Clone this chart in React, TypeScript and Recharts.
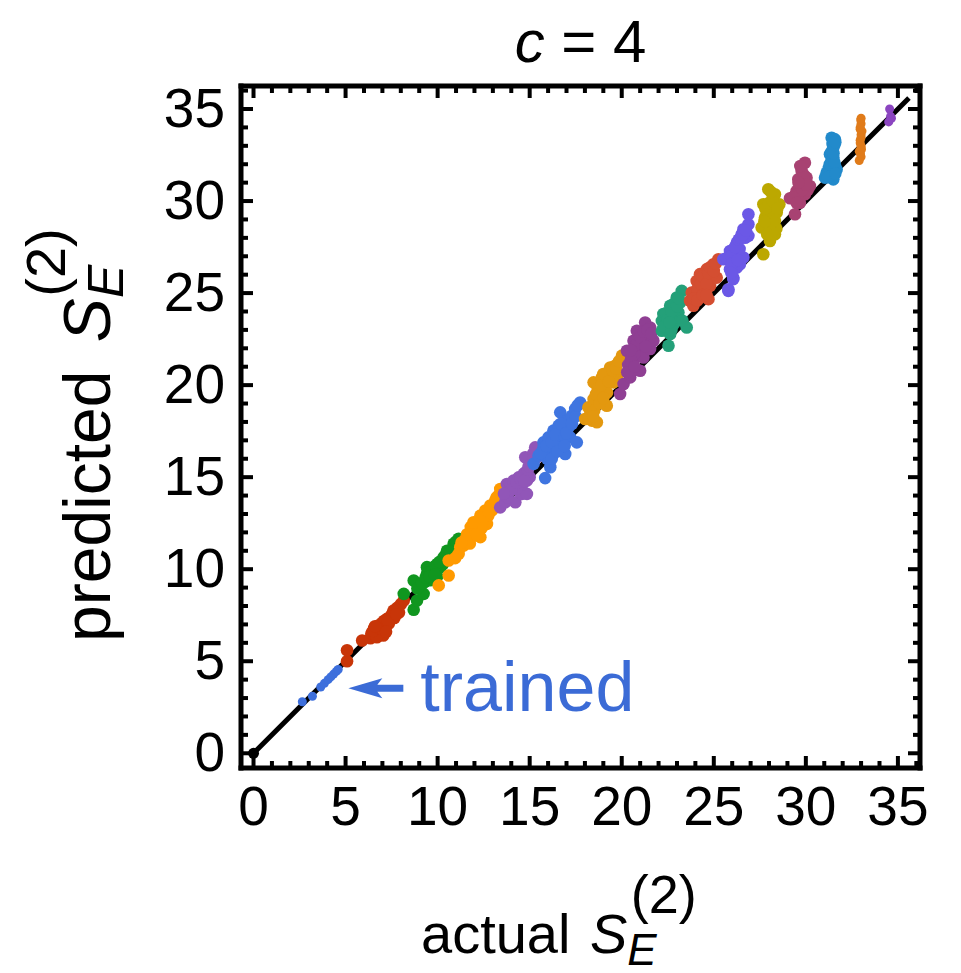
import { ScatterChart, Scatter, XAxis, YAxis, ReferenceDot } from "recharts"

type Pt = [number, number]

// axis setup
const X_DOMAIN: [number, number] = [-0.68, 36.2]
const Y_DOMAIN: [number, number] = [-0.8, 36.25]
const TICKS = [0, 1, 2, 3, 4, 5, 6, 7, 8, 9, 10, 11, 12, 13, 14, 15, 16, 17, 18, 19, 20, 21, 22, 23, 24, 25, 26, 27, 28, 29, 30, 31, 32, 33, 34, 35, 36]
const MAJOR = [0, 5, 10, 15, 20, 25, 30, 35]

// actual vs predicted, one array per group
const ORIGIN: Pt[] = [[0, 0]]
const DIAGONAL: Pt[] = [[0, 0], [35.6, 35.6]]
const TRAINED: Pt[] = [[2.65, 2.8], [3.2, 3.1], [3.65, 3.6], [3.85, 3.8], [4.05, 4.0], [4.2, 4.15], [4.35, 4.3], [4.5, 4.45], [4.6, 4.55]]
const RED_A: Pt[] = [[5.08, 5.0], [5.08, 5.6], [5.9, 6.13], [6.35, 6.25], [6.45, 6.55], [6.6, 6.35], [6.55, 6.8], [6.75, 6.55], [6.8, 6.95], [6.95, 6.7], [7.0, 7.1], [7.05, 6.4], [7.15, 6.9], [7.25, 7.3], [7.35, 7.05], [7.45, 7.45], [7.55, 7.6], [7.65, 7.35], [7.8, 7.9], [7.9, 7.65], [8.0, 8.1], [8.16, 8.3], [6.4, 6.5], [6.7, 6.3], [6.5, 6.65], [6.85, 6.8], [7.1, 7.2], [7.3, 7.15], [7.6, 7.75], [7.75, 7.55], [6.6, 6.9], [7.2, 6.6]]
const GREEN_A: Pt[] = [[8.16, 8.66], [8.7, 7.8], [8.88, 8.3], [8.7, 9.39], [9.06, 9.02], [9.24, 8.66], [9.42, 9.75], [9.3, 9.3], [9.6, 9.4], [9.78, 10.11], [9.97, 9.6], [10.15, 10.11], [10.0, 10.3], [10.33, 10.65], [10.3, 10.3], [10.51, 11.0], [10.6, 10.7], [10.87, 11.38], [10.8, 11.1], [11.14, 11.65], [9.42, 10.11], [9.5, 9.8], [8.9, 8.95], [11.0, 11.5], [9.15, 9.25], [9.35, 9.55], [9.7, 9.9], [9.9, 10.2], [10.1, 10.4], [10.45, 10.8], [10.7, 10.95], [9.55, 9.6], [9.85, 9.7]]
const ORANGE_A: Pt[] = [[10.06, 9.12], [10.6, 9.66], [10.6, 10.47], [10.95, 10.6], [11.14, 10.83], [11.23, 11.19], [11.41, 11.29], [11.5, 11.6], [11.68, 11.74], [11.87, 12.1], [11.9, 11.8], [12.05, 12.46], [12.14, 12.1], [12.32, 11.74], [12.32, 12.91], [12.45, 12.6], [12.59, 13.19], [12.68, 12.46], [12.75, 12.9], [12.86, 13.46], [12.95, 13.2], [13.13, 13.73], [13.31, 14.0], [13.4, 14.36], [11.75, 11.4], [12.2, 12.3], [11.3, 11.45], [11.6, 11.9], [11.8, 12.3], [12.0, 12.2], [12.4, 12.25], [12.5, 12.85], [12.8, 13.1], [13.0, 13.5], [13.2, 13.9], [12.1, 11.9], [11.95, 12.55]]
const PURPLE_A: Pt[] = [[13.4, 13.36], [13.67, 13.64], [13.76, 14.63], [13.94, 14.63], [14.12, 14.81], [14.22, 13.64], [14.4, 14.99], [14.49, 14.18], [14.58, 14.09], [14.67, 15.18], [14.76, 15.26], [14.76, 16.08], [14.85, 14.09], [14.85, 14.81], [15.03, 15.63], [15.0, 15.0], [15.3, 16.62], [15.39, 16.08], [15.2, 16.3], [14.6, 14.6], [14.3, 14.4], [13.8, 13.9], [14.0, 14.3], [14.3, 14.7], [14.5, 14.9], [14.7, 14.8], [14.9, 15.4], [15.1, 15.8], [15.2, 16.0], [14.95, 15.6], [13.6, 14.1]]
const BLUE_A: Pt[] = [[15.21, 15.72], [15.48, 16.17], [15.75, 16.89], [15.75, 16.62], [15.84, 14.95], [16.0, 16.4], [16.02, 17.16], [16.12, 15.54], [16.29, 17.53], [16.29, 16.26], [16.39, 16.62], [16.57, 17.8], [16.66, 18.52], [16.75, 16.98], [16.93, 16.26], [17.02, 18.07], [17.2, 17.16], [17.29, 18.34], [17.47, 18.7], [17.56, 16.89], [17.74, 19.06], [16.5, 17.2], [16.8, 17.5], [17.1, 17.7], [15.95, 16.0], [16.6, 16.6], [15.6, 16.3], [15.9, 16.7], [16.2, 16.9], [16.4, 17.3], [16.7, 17.9], [16.9, 17.2], [17.0, 17.4], [17.3, 17.9], [17.5, 18.3], [17.6, 18.9], [16.2, 16.0], [16.5, 16.4], [16.9, 16.7]]
const GOLD_A: Pt[] = [[18.01, 18.16], [18.19, 18.79], [18.38, 18.07], [18.47, 19.24], [18.47, 20.15], [18.65, 17.98], [18.83, 19.52], [18.92, 20.42], [19.01, 19.97], [19.19, 18.88], [19.19, 20.42], [19.37, 20.78], [19.37, 20.96], [19.55, 20.15], [19.64, 21.05], [19.82, 20.6], [20.01, 21.6], [18.7, 19.8], [19.2, 19.6], [18.3, 18.5], [19.5, 20.5], [18.2, 18.2], [18.5, 18.6], [18.6, 19.5], [18.8, 19.0], [18.9, 20.0], [19.0, 20.6], [19.3, 20.2], [19.5, 20.8], [19.7, 20.9], [18.45, 18.3], [19.0, 19.3], [19.85, 21.3]]
const PURPLE_B: Pt[] = [[19.91, 19.52], [20.1, 20.06], [20.28, 21.87], [20.46, 20.42], [20.46, 20.6], [20.64, 21.32], [20.64, 22.41], [20.82, 22.95], [20.91, 21.87], [20.99, 22.05], [21.0, 20.78], [21.18, 21.5], [21.27, 23.4], [21.45, 22.59], [21.54, 23.13], [21.54, 21.96], [21.72, 22.41], [20.7, 21.7], [21.1, 22.4], [20.35, 21.1], [20.3, 20.7], [20.5, 21.4], [20.7, 21.0], [20.8, 22.2], [21.0, 22.6], [21.2, 22.9], [21.3, 22.1], [21.4, 23.0], [20.5, 21.9], [21.6, 22.8]]
const TEAL_A: Pt[] = [[22.18, 23.49], [22.18, 22.95], [22.26, 23.86], [22.54, 22.14], [22.63, 24.31], [22.63, 22.77], [22.81, 23.31], [22.99, 24.76], [23.08, 23.95], [23.17, 24.49], [23.26, 25.12], [23.53, 23.13], [22.45, 23.3], [22.9, 23.7], [22.4, 23.9], [22.3, 23.2], [22.5, 23.6], [22.7, 24.0], [22.8, 24.4], [23.0, 24.3], [23.1, 24.7], [22.7, 23.0], [23.3, 23.5], [22.6, 23.4]]
const RED_B: Pt[] = [[23.71, 24.58], [23.8, 25.03], [23.89, 24.31], [24.07, 25.66], [24.25, 26.03], [24.25, 24.76], [24.43, 25.21], [24.62, 26.3], [24.71, 24.67], [24.8, 25.39], [24.98, 26.57], [25.16, 25.84], [25.25, 26.84], [24.5, 25.7], [24.1, 25.2], [24.9, 26.0], [23.9, 24.7], [24.1, 24.6], [24.3, 25.5], [24.4, 25.9], [24.6, 25.5], [24.7, 26.1], [24.8, 26.4], [25.0, 26.2], [24.4, 24.9], [24.6, 24.9], [25.1, 26.6]]
const VIOLET_A: Pt[] = [[25.52, 26.84], [25.79, 25.12], [25.79, 25.21], [25.88, 27.29], [25.88, 26.3], [26.06, 25.84], [26.06, 25.76], [26.25, 27.74], [26.25, 26.39], [26.42, 26.57], [26.52, 28.2], [26.61, 26.93], [26.61, 28.47], [26.7, 28.01], [26.88, 28.11], [26.88, 28.74], [26.88, 29.28], [26.1, 27.1], [26.4, 27.4], [25.7, 26.9], [25.95, 27.0], [26.15, 27.5], [26.35, 27.9], [26.45, 28.0], [26.6, 28.2], [26.75, 28.4], [26.0, 26.6], [26.3, 26.8], [25.95, 26.1]]
const OLIVE_A: Pt[] = [[27.96, 30.64], [28.32, 30.37], [27.69, 29.83], [28.14, 29.64], [28.56, 29.83], [27.78, 29.1], [28.32, 28.92], [27.87, 28.47], [28.32, 28.2], [28.05, 27.83], [27.69, 27.11], [28.42, 29.38], [27.6, 28.56], [28.0, 29.2], [28.1, 28.6], [27.85, 29.5], [28.4, 28.5], [27.8, 29.6], [28.0, 29.9], [28.2, 30.0], [28.1, 30.5], [27.95, 28.8], [28.2, 28.9], [28.45, 29.6], [27.75, 28.9], [28.15, 28.3], [27.9, 28.2]]
const MAGENTA_A: Pt[] = [[29.95, 32.08], [29.77, 31.63], [29.59, 31.18], [29.5, 30.55], [29.14, 30.15], [29.41, 29.28], [29.95, 30.37], [30.22, 30.82], [29.68, 29.91], [30.04, 31.27], [29.68, 30.73], [29.85, 31.0], [30.1, 30.6], [29.4, 30.3], [29.6, 30.4], [29.8, 30.6], [29.9, 31.4], [29.7, 31.9], [30.0, 30.9], [29.6, 31.0], [29.3, 30.2], [29.5, 29.9]]
const BLUE_B: Pt[] = [[31.4, 33.44], [31.58, 33.35], [31.49, 32.9], [31.31, 32.54], [31.4, 32.18], [31.58, 31.9], [31.13, 31.54], [31.04, 31.27], [31.49, 31.18], [31.67, 31.72], [31.35, 31.4], [31.45, 33.1], [31.4, 32.7], [31.5, 32.35], [31.25, 31.8], [31.3, 32.0], [31.55, 32.1], [31.5, 32.6], [31.55, 33.05], [31.6, 33.2], [31.2, 31.3], [31.6, 31.5]]
const ORANGE_B: Pt[] = [[33.0, 34.2], [32.95, 33.9], [33.0, 33.6], [32.95, 33.3], [33.0, 33.0], [32.9, 32.7], [33.0, 32.4], [32.9, 32.2], [33.05, 33.8], [33.0, 32.9], [32.95, 34.0], [32.98, 34.4], [33.0, 33.45], [32.95, 33.15], [32.97, 32.55], [33.02, 32.8], [33.0, 34.5]]
const PURPLE_C: Pt[] = [[34.55, 35.0], [34.6, 34.6], [34.5, 34.3], [34.65, 34.5]]

const GROUPS = [
  { name: "trained", points: TRAINED, color: "#3d6fdc", r: 4.5 },
  { name: "g1", points: RED_A, color: "#c83508", r: 6.3 },
  { name: "g2", points: GREEN_A, color: "#10961f", r: 6.3 },
  { name: "g3", points: ORANGE_A, color: "#ff9a00", r: 6.3 },
  { name: "g4", points: PURPLE_A, color: "#9156b8", r: 6.3 },
  { name: "g5", points: BLUE_A, color: "#3f75e0", r: 6.3 },
  { name: "g6", points: GOLD_A, color: "#e3980f", r: 6.3 },
  { name: "g7", points: PURPLE_B, color: "#8f3f93", r: 6.3 },
  { name: "g8", points: TEAL_A, color: "#24a079", r: 6.3 },
  { name: "g9", points: RED_B, color: "#d44e31", r: 6.3 },
  { name: "g10", points: VIOLET_A, color: "#6b58e6", r: 6.3 },
  { name: "g11", points: OLIVE_A, color: "#bca800", r: 6.3 },
  { name: "g12", points: MAGENTA_A, color: "#a84272", r: 6.3 },
  { name: "g13", points: BLUE_B, color: "#228acb", r: 6.3 },
  { name: "g14", points: ORANGE_B, color: "#e07b1a", r: 4.5 },
  { name: "g15", points: PURPLE_C, color: "#8b45c0", r: 4.5 },
]

const FONT = "'Liberation Sans', Arial, Helvetica, sans-serif"
const TICK_LABEL_SIZE = 55
const FRAME = { stroke: "#000", strokeWidth: 5, strokeLinecap: "square" as const }
const TICK_LINE = { stroke: "#000", strokeWidth: 4 }

const toRows = (pts: Pt[]) => pts.map(([x, y]) => ({ x, y }))
const isMajor = (v: number) => MAJOR.includes(v)
const tickLen = (v: number) => (isMajor(v) ? 12 : 7)

function BottomTick({ x, y, payload }: any) {
  const v = payload.value
  return (
    <g>
      <line x1={x} y1={y} x2={x} y2={y - tickLen(v)} {...TICK_LINE} />
      {isMajor(v) && (
        <text x={x} y={y + 57} textAnchor="middle" fontSize={TICK_LABEL_SIZE} fontFamily={FONT} fill="#000">
          {v}
        </text>
      )}
    </g>
  )
}

function TopTick({ x, y, payload }: any) {
  return <line x1={x} y1={y} x2={x} y2={y + tickLen(payload.value)} {...TICK_LINE} />
}

function LeftTick({ x, y, payload }: any) {
  const v = payload.value
  return (
    <g>
      <line x1={x} y1={y} x2={x + tickLen(v)} y2={y} {...TICK_LINE} />
      {isMajor(v) && (
        <text x={x - 16} y={y + 18} textAnchor="end" fontSize={TICK_LABEL_SIZE} fontFamily={FONT} fill="#000">
          {v}
        </text>
      )}
    </g>
  )
}

function RightTick({ x, y, payload }: any) {
  return <line x1={x} y1={y} x2={x - tickLen(payload.value)} y2={y} {...TICK_LINE} />
}

function TitleLabel({ viewBox }: any) {
  const cx = viewBox.x + viewBox.width / 2
  return (
    <text x={cx} y={62} textAnchor="middle" fontSize={60} fontFamily={FONT} fill="#000">
      <tspan fontStyle="italic">c</tspan>
      <tspan> = 4</tspan>
    </text>
  )
}

function XTitle({ viewBox }: any) {
  return (
    <text x={viewBox.x + 180} y={viewBox.y + 185} fontSize={56} fontFamily={FONT} fill="#000">
      <tspan>actual </tspan>
      <tspan fontStyle="italic" dx={4}>S</tspan>
      <tspan fontStyle="italic" fontSize={44} dy={12}>E</tspan>
      <tspan fontSize={54} dx={-26} dy={-52}>(2)</tspan>
    </text>
  )
}

function YTitle({ viewBox }: any) {
  const x = viewBox.x + 110
  const y = 642
  return (
    <text transform={`translate(${x},${y}) rotate(-90)`} fontSize={66} fontFamily={FONT} fill="#000">
      <tspan>predicted </tspan>
      <tspan fontStyle="italic" dx={10}>S</tspan>
      <tspan fontStyle="italic" fontSize={50} dy={13}>E</tspan>
      <tspan fontSize={56} dx={-32} dy={-58}>(2)</tspan>
    </text>
  )
}

// arrow pointing at the trained points plus its caption
function TrainedNote({ cx, cy }: any) {
  const c = "#3b6bd6"
  const d = `M${cx},${cy} L${cx + 34},${cy - 10} L${cx + 29},${cy - 3.5} L${cx + 55},${cy - 3.5} L${cx + 55},${cy + 3.5} L${cx + 29},${cy + 3.5} L${cx + 34},${cy + 10} Z`
  return (
    <g>
      <path d={d} fill={c} />
      <text x={cx + 72} y={cy + 23} fontSize={70} fontFamily={FONT} fill={c}>
        trained
      </text>
    </g>
  )
}

export default function App() {
  return (
    <div style={{ position: "absolute", left: 0, top: 0, background: "#fff" }}>
      <ScatterChart width={961} height={973} margin={{ top: 0, right: 0, bottom: 0, left: 0 }}>
        <XAxis
          xAxisId="b"
          orientation="bottom"
          type="number"
          dataKey="x"
          domain={X_DOMAIN}
          allowDataOverflow
          ticks={TICKS}
          interval={0}
          height={205}
          tickSize={0}
          tickMargin={0}
          tickLine={false}
          axisLine={FRAME}
          tick={(p: any) => <BottomTick {...p} />}
          label={{ content: (p: any) => <XTitle {...p} /> }}
        />
        <XAxis
          xAxisId="t"
          orientation="top"
          type="number"
          dataKey="x"
          domain={X_DOMAIN}
          allowDataOverflow
          ticks={TICKS}
          interval={0}
          height={86}
          tickSize={0}
          tickMargin={0}
          tickLine={false}
          axisLine={FRAME}
          tick={(p: any) => <TopTick {...p} />}
          label={{ content: (p: any) => <TitleLabel {...p} /> }}
        />
        <YAxis
          yAxisId="l"
          orientation="left"
          type="number"
          dataKey="y"
          domain={Y_DOMAIN}
          allowDataOverflow
          ticks={TICKS}
          interval={0}
          width={241}
          tickSize={0}
          tickMargin={0}
          tickLine={false}
          axisLine={FRAME}
          tick={(p: any) => <LeftTick {...p} />}
          label={{ content: (p: any) => <YTitle {...p} /> }}
        />
        <YAxis
          yAxisId="r"
          orientation="right"
          type="number"
          dataKey="y"
          domain={Y_DOMAIN}
          allowDataOverflow
          ticks={TICKS}
          interval={0}
          width={41}
          tickSize={0}
          tickMargin={0}
          tickLine={false}
          axisLine={FRAME}
          tick={(p: any) => <RightTick {...p} />}
        />
        <Scatter
          name="diagonal"
          data={toRows(DIAGONAL)}
          xAxisId="b"
          yAxisId="l"
          line={{ stroke: "#000", strokeWidth: 5 }}
          shape={() => <g />}
          isAnimationActive={false}
        />
        <Scatter
          name="origin"
          data={toRows(ORIGIN)}
          xAxisId="b"
          yAxisId="l"
          shape={(p: any) => <circle cx={p.cx} cy={p.cy} r={5.5} fill="#000" />}
          isAnimationActive={false}
        />
        {GROUPS.map((g) => (
          <Scatter
            key={g.name}
            name={g.name}
            data={toRows(g.points)}
            xAxisId="b"
            yAxisId="l"
            shape={(p: any) => <circle cx={p.cx} cy={p.cy} r={g.r} fill={g.color} />}
            isAnimationActive={false}
          />
        ))}
        <ReferenceDot
          x={5.15}
          y={3.53}
          xAxisId="b"
          yAxisId="l"
          ifOverflow="visible"
          shape={(p: any) => <TrainedNote {...p} />}
        />
      </ScatterChart>
    </div>
  )
}
